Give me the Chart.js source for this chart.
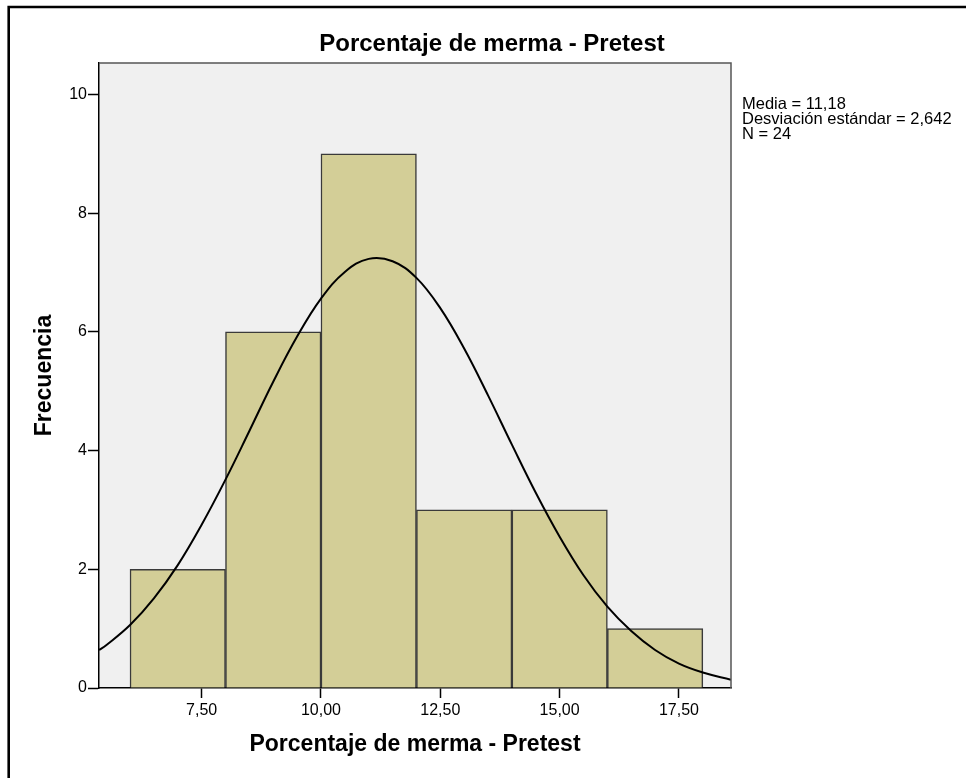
<!DOCTYPE html>
<html>
<head>
<meta charset="utf-8">
<script src="https://cdn.jsdelivr.net/npm/chart.js@4.4.0/dist/chart.umd.min.js"></script>
<style>
  html, body { margin: 0; padding: 0; background: #fff; }
</style>
</head>
<body>
<canvas id="myChart" width="966" height="778"></canvas>
<script>
// histogram bins (centre of each 2-unit bin) and counts
const binCenters = [7, 9, 11, 13, 15, 17]
const frequencies = [2, 6, 9, 3, 3, 1]

// normal curve
const curveX = [5.35, 5.5, 6, 6.5, 7, 7.5, 8, 8.5, 9, 9.5, 10, 10.5, 11, 11.5, 12, 12.5, 13, 13.5, 14, 14.5, 15, 15.5, 16, 16.5, 17, 17.5, 18, 18.59]
const curveY = [0.64, 0.72, 1.06, 1.51, 2.07, 2.75, 3.51, 4.33, 5.16, 5.92, 6.56, 7.01, 7.23, 7.19, 6.91, 6.40, 5.72, 4.93, 4.10, 3.29, 2.55, 1.90, 1.37, 0.96, 0.64, 0.41, 0.26, 0.14]

const xTicks = [7.5, 10, 12.5, 15, 17.5]
const yTicks = [0, 2, 4, 6, 8, 10]

const chartTitle = "Porcentaje de merma - Pretest"
const xTitle = "Porcentaje de merma - Pretest"
const yTitle = "Frecuencia"
const statLines = ["Media = 11,18", "Desviación estándar = 2,642", "N = 24"]

const FONT = "'Liberation Sans', Arial, sans-serif"

const decor = {
  id: "decor",
  beforeDraw(chart) {
    const {ctx, chartArea: a} = chart
    ctx.save()
    ctx.fillStyle = "#fff"
    ctx.fillRect(0, 0, chart.width, chart.height)
    ctx.fillStyle = "#f0f0f0"
    ctx.fillRect(a.left, a.top, a.right - a.left, a.bottom - a.top)
    // outer frame (left + top only)
    ctx.strokeStyle = "#000"
    ctx.lineWidth = 2.6
    ctx.beginPath()
    ctx.moveTo(8.7, chart.height)
    ctx.lineTo(8.7, 7)
    ctx.lineTo(chart.width, 7)
    ctx.stroke()
    ctx.restore()
  },
  afterDraw(chart) {
    const {ctx, chartArea: a} = chart
    ctx.save()
    // plot frame top + right
    ctx.strokeStyle = "#555"
    ctx.lineWidth = 1.5
    ctx.beginPath()
    ctx.moveTo(a.left, a.top)
    ctx.lineTo(a.right, a.top)
    ctx.lineTo(a.right, a.bottom)
    ctx.stroke()
    // title
    ctx.fillStyle = "#000"
    ctx.font = "bold 24px " + FONT
    ctx.textAlign = "center"
    ctx.textBaseline = "alphabetic"
    ctx.fillText(chartTitle, 492, 51)
    // stats
    ctx.font = "16.5px " + FONT
    ctx.textAlign = "left"
    statLines.forEach((t, i) => ctx.fillText(t, 742, 109 + i * 15))
    ctx.restore()
  }
}

const ctx = document.querySelector("#myChart")
const myChart = new Chart(ctx, {
  data: {
    datasets: [{
      type: "line",
      data: curveX.map((x, i) => ({x: x, y: curveY[i]})),
      borderColor: "#000",
      borderWidth: 2,
      pointRadius: 0,
      tension: 0.4,
      fill: false,
      order: 0
    }, {
      type: "bar",
      data: binCenters.map((x, i) => ({x: x, y: frequencies[i]})),
      backgroundColor: "#d3ce97",
      borderColor: "#3a3a3a",
      borderWidth: 1.5,
      barPercentage: 1,
      categoryPercentage: 1,
      order: 1
    }]
  },
  options: {
    responsive: false,
    animation: false,
    devicePixelRatio: 1,
    layout: {padding: {top: 63, right: 235, left: 0, bottom: 0}},
    plugins: {legend: {display: false}, title: {display: false}, tooltip: {enabled: false}},
    scales: {
      x: {
        type: "linear",
        min: 5.35,
        max: 18.59,
        offset: false,
        afterBuildTicks: (s) => { s.ticks = xTicks.map(v => ({value: v})) },
        afterFit: (s) => { s.height = 90 },
        ticks: {
          font: {family: FONT, size: 16},
          color: "#000",
          padding: 3,
          maxRotation: 0,
          autoSkip: false,
          callback: (v) => v.toFixed(2).replace(".", ",")
        },
        grid: {offset: false, drawOnChartArea: false, tickLength: 10, tickColor: "#000", tickWidth: 1.5},
        border: {color: "#000", width: 1.5},
        title: {display: true, text: xTitle, color: "#000", font: {family: FONT, size: 23, weight: "bold"}, padding: {top: 0, bottom: 20}}
      },
      y: {
        min: 0,
        max: 10.53,
        afterBuildTicks: (s) => { s.ticks = yTicks.map(v => ({value: v})) },
        afterFit: (s) => { s.width = 99 },
        ticks: {font: {family: FONT, size: 16}, color: "#000", padding: 1},
        grid: {drawOnChartArea: false, tickLength: 11, tickColor: "#000", tickWidth: 1.5},
        border: {color: "#000", width: 1.5},
        title: {display: true, text: yTitle, color: "#000", font: {family: FONT, size: 23, weight: "bold"}, padding: {top: 31, bottom: 0}}
      }
    }
  },
  plugins: [decor]
})
</script>
</body>
</html>
